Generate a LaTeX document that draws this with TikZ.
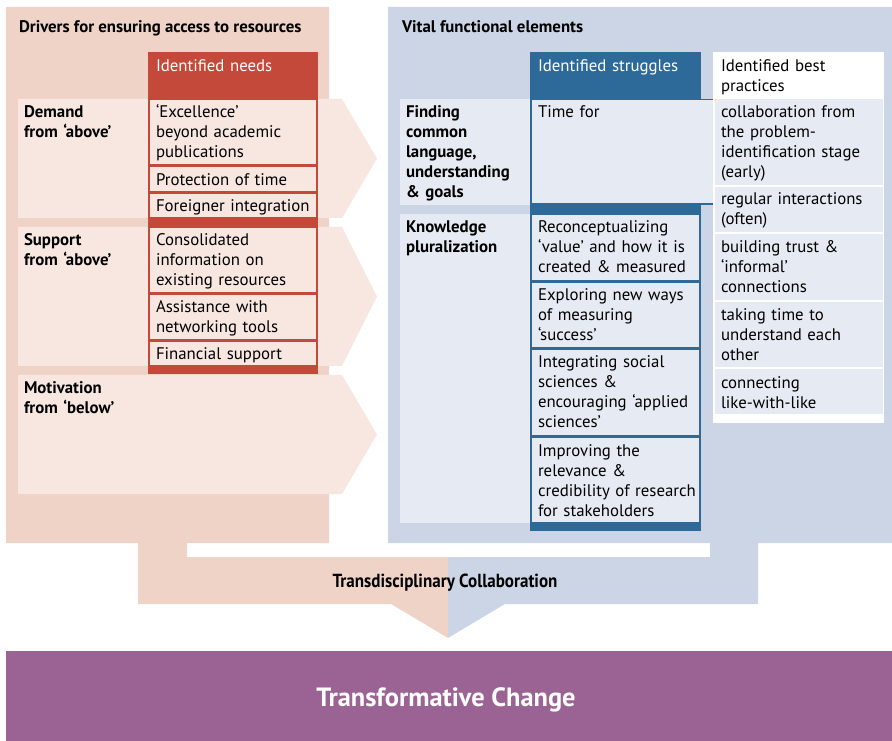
\documentclass[tikz,border=0pt]{standalone}
\usepackage{fontspec}
\setmainfont{PT Sans}
\newfontfamily\condsans[FakeStretch=0.9]{PT Sans}
\definecolor{panelpink}{HTML}{F0D3C7}
\definecolor{rowpink}{HTML}{F8E7E1}
\definecolor{needred}{HTML}{C4493A}
\definecolor{panelblue}{HTML}{CBD5E5}
\definecolor{rowblue}{HTML}{E5EAF3}
\definecolor{struggleblue}{HTML}{2D6A9A}
\definecolor{changepurple}{HTML}{9B6394}
\begin{document}
\begin{tikzpicture}[x=0.75pt,y=-0.75pt,
  txt/.style={anchor=base west, inner sep=0pt, outer sep=0pt, align=left,
    text width=170pt, font=\fontsize{12.6}{15}\selectfont},
  hd/.style={txt, font=\fontsize{12.6}{15}\selectfont\bfseries},
  paneltitle/.style={anchor=base west, inner sep=0pt, outer sep=0pt,
    font=\fontsize{12.6}{15}\selectfont\bfseries},
  colhead/.style={txt, text=white},
  redcell/.style={fill=rowpink, draw=needred, line width=0.9pt},
  bluecell/.style={fill=rowblue, draw=struggleblue, line width=0.9pt},
  bestcell/.style={fill=rowblue}]
\useasboundingbox (0,0) rectangle (892,741);

% ---- panels with their stems into the funnel
\fill[panelpink] (6,7) -- (329,7) -- (329,543) -- (187,543) -- (187,557)
  -- (448,557) -- (448,638) -- (391,604) -- (138,604) -- (138,543)
  -- (6,543) -- cycle;
\fill[panelblue] (388,7) -- (892,7) -- (892,543) -- (758,543) -- (758,604)
  -- (505,604) -- (448,638) -- (448,557) -- (710,557) -- (710,543)
  -- (388,543) -- cycle;

% ---- driver arrows
\fill[rowpink] (18,99) -- (342,99) -- (377,158.5) -- (342,218) -- (18,218) -- cycle;
\fill[rowpink] (18,227) -- (342,227) -- (377,296.5) -- (342,366) -- (18,366) -- cycle;
\fill[rowpink] (18,375) -- (342,375) -- (377,434.5) -- (342,494) -- (18,494) -- cycle;

% ---- identified needs column
\fill[needred] (148,52) rectangle (318,374);
\draw[redcell] (149.5,99.5) rectangle (316.5,165);
\draw[redcell] (149.5,166.5) rectangle (316.5,192);
\draw[redcell] (149.5,193.5) rectangle (316.5,218);
\draw[redcell] (149.5,227.5) rectangle (316.5,293);
\draw[redcell] (149.5,294.5) rectangle (316.5,340);
\draw[redcell] (149.5,341.5) rectangle (316.5,366);

% ---- vital element rows
\fill[rowblue] (400,99) rectangle (530,205);
\fill[rowblue] (400,214) rectangle (530,523);

% ---- identified struggles column
\fill[struggleblue] (530,52) rectangle (701,531);
\fill[rowblue] (531.5,99.5) rectangle (713,204);
\draw[struggleblue, line width=0.9pt] (713,99.5) -- (531.5,99.5) -- (531.5,204) -- (713,204);
\draw[bluecell] (531.5,214.5) rectangle (699.5,280.5);
\draw[bluecell] (531.5,282) rectangle (699.5,347.5);
\draw[bluecell] (531.5,349.5) rectangle (699.5,435.5);
\draw[bluecell] (531.5,437) rectangle (699.5,522.5);

% ---- identified best practices column
\fill[white] (713,52) rectangle (884,423);
\fill[bestcell] (715,99) rectangle (883,185);
\fill[bestcell] (715,187) rectangle (883,232);
\fill[bestcell] (715,234) rectangle (883,300);
\fill[bestcell] (715,302) rectangle (883,367);
\fill[bestcell] (715,369) rectangle (883,414);

% ---- outcome band
\fill[changepurple] (6,651) rectangle (892,741);

% ---- texts: drivers
\node[paneltitle] (drivers) at (19,33) {Drivers for ensuring access to resources};
\node[colhead] (needs) at (156,72) {Identified needs};
\node[hd] (demand) at (24,118) {Demand\\from ‘above’};
\node[txt] (excel) at (156,118) {‘Excellence’\\beyond academic\\publications};
\node[txt] (protect) at (156,186) {Protection of time};
\node[txt] (foreign) at (156,212) {Foreigner integration};
\node[hd] (support) at (24,246) {Support\\from ‘above’};
\node[txt] (consol) at (156,246) {Consolidated\\information on\\existing resources};
\node[txt] (assist) at (156,313) {Assistance with\\networking tools};
\node[txt] (finance) at (156,360) {Financial support};
\node[hd] (motiv) at (24,393) {Motivation\\from ‘below’};

% ---- texts: vital elements
\node[paneltitle] (vital) at (402,33) {Vital functional elements};
\node[colhead] (strug) at (538,72) {Identified struggles};
\node[txt] (best) at (721,72) {Identified best\\practices};
\node[hd] (finding) at (406,118) {Finding\\common\\language,\\understanding\\\& goals};
\node[txt] (timefor) at (538,118) {Time for};
\node[txt] (collab) at (721,118) {collaboration from\\the problem-\\identification stage\\(early)};
\node[txt] (regular) at (721,205) {regular interactions\\(often)};
\node[txt] (trust) at (721,253) {building trust \&\\‘informal’\\connections};
\node[txt] (taking) at (721,321) {taking time to\\understand each\\other};
\node[txt] (connect) at (721,388) {connecting\\like-with-like};
\node[hd] (knowl) at (406,233) {Knowledge\\pluralization};
\node[txt] (reconc) at (538,233) {Reconceptualizing\\‘value’ and how it is\\created \& measured};
\node[txt] (explore) at (538,301) {Exploring new ways\\of measuring\\‘success’};
\node[txt] (integr) at (538,368) {Integrating social\\sciences \&\\encouraging ‘applied\\sciences’};
\node[txt] (improve) at (538,456) {Improving the\\relevance \&\\credibility of research\\for stakeholders};

% ---- funnel and outcome
\node[anchor=base, inner sep=0pt, font=\condsans\bfseries\fontsize{14.2}{17}\selectfont]
  (transd) at (445,587) {Transdisciplinary Collaboration};
\node[anchor=base, inner sep=0pt, text=white, font=\bfseries\fontsize{19.8}{24}\selectfont]
  (change) at (446,706) {Transformative Change};
\end{tikzpicture}
\end{document}
